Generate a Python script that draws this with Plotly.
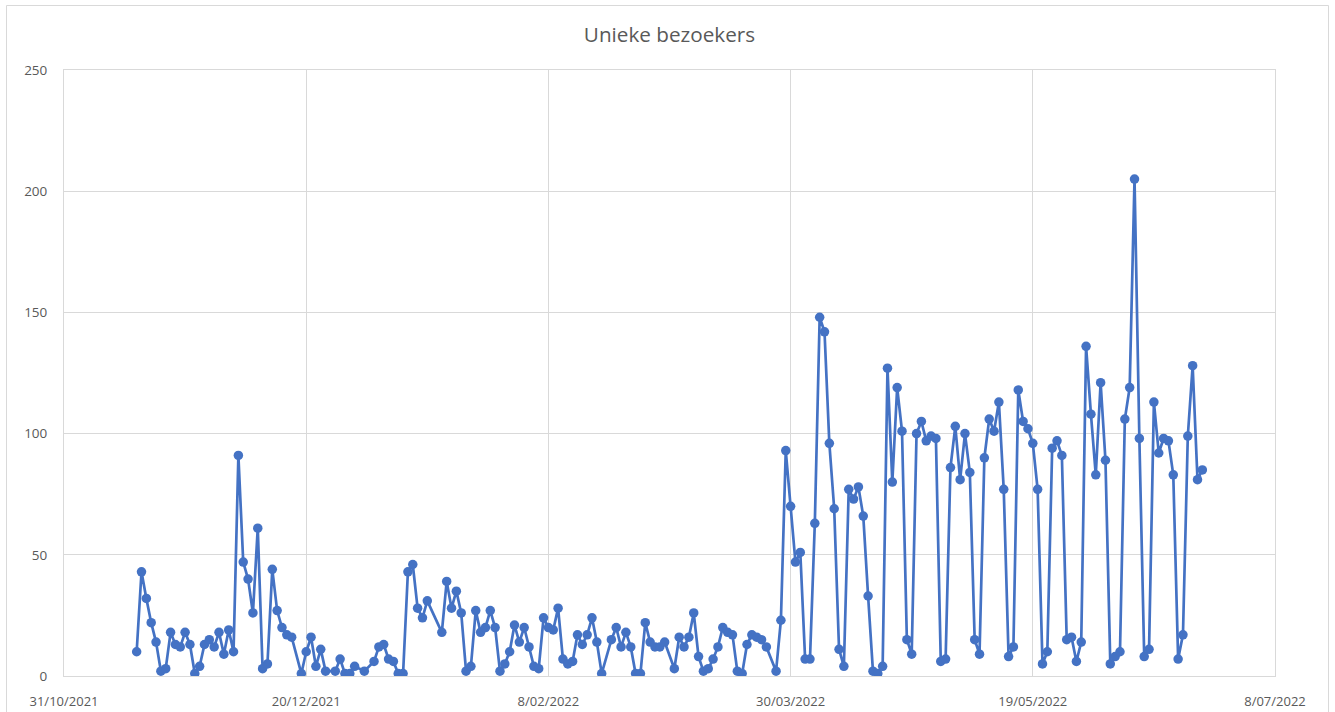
import pandas as pd
import plotly.graph_objects as go

title_text = "Unieke bezoekers"
start_date = "2021-10-31"

days_since_start = [
    15, 16, 17, 18, 19, 20, 21, 22, 23, 24, 25, 26, 27, 28, 29, 30, 31, 32, 33, 34,
    35, 36, 37, 38, 39, 40, 41, 42, 43, 44, 45, 46, 47, 49, 50, 51, 52, 53, 54, 56,
    57, 58, 59, 60, 62, 64, 65, 66, 67, 68, 69, 70, 71, 72, 73, 74, 75, 78, 79, 80,
    81, 82, 83, 84, 85, 86, 87, 88, 89, 90, 91, 92, 93, 94, 95, 96, 97, 98, 99, 100,
    101, 102, 103, 104, 105, 106, 107, 108, 109, 110, 111, 113, 114, 115, 116, 117, 118, 119, 120, 121,
    122, 123, 124, 126, 127, 128, 129, 130, 131, 132, 133, 134, 135, 136, 137, 138, 139, 140, 141, 142,
    143, 144, 145, 147, 148, 149, 150, 151, 152, 153, 154, 155, 156, 157, 158, 159, 160, 161, 162, 163,
    164, 165, 166, 167, 168, 169, 170, 171, 172, 173, 174, 175, 176, 177, 178, 179, 180, 181, 182, 183,
    184, 185, 186, 187, 188, 189, 190, 191, 192, 193, 194, 195, 196, 197, 198, 199, 200, 201, 202, 203,
    204, 205, 206, 207, 208, 209, 210, 211, 212, 213, 214, 215, 216, 217, 218, 219, 220, 221, 222, 223,
    224, 225, 226, 227, 228, 229, 230, 231, 232, 233, 234, 235,
]

visitors = [
    10, 43, 32, 22, 14, 2, 3, 18, 13, 12, 18, 13, 1, 4, 13, 15, 12, 18, 9, 19,
    10, 91, 47, 40, 26, 61, 3, 5, 44, 27, 20, 17, 16, 1, 10, 16, 4, 11, 2, 2,
    7, 1, 1, 4, 2, 6, 12, 13, 7, 6, 1, 1, 43, 46, 28, 24, 31, 18, 39, 28,
    35, 26, 2, 4, 27, 18, 20, 27, 20, 2, 5, 10, 21, 14, 20, 12, 4, 3, 24, 20,
    19, 28, 7, 5, 6, 17, 13, 17, 24, 14, 1, 15, 20, 12, 18, 12, 1, 1, 22, 14,
    12, 12, 14, 3, 16, 12, 16, 26, 8, 2, 3, 7, 12, 20, 18, 17, 2, 1, 13, 17,
    16, 15, 12, 2, 23, 93, 70, 47, 51, 7, 7, 63, 148, 142, 96, 69, 11, 4, 77, 73,
    78, 66, 33, 2, 1, 4, 127, 80, 119, 101, 15, 9, 100, 105, 97, 99, 98, 6, 7, 86,
    103, 81, 100, 84, 15, 9, 90, 106, 101, 113, 77, 8, 12, 118, 105, 102, 96, 77, 5, 10,
    94, 97, 91, 15, 16, 6, 14, 136, 108, 83, 121, 89, 5, 8, 10, 106, 119, 205, 98, 8,
    11, 113, 92, 98, 97, 83, 7, 17, 99, 128, 81, 85,
]

x_tick_dates = ["2021-10-31", "2021-12-20", "2022-02-08", "2022-03-30", "2022-05-19", "2022-07-08"]
x_tick_labels = ["31/10/2021", "20/12/2021", "8/02/2022", "30/03/2022", "19/05/2022", "8/07/2022"]
y_ticks = [0, 50, 100, 150, 200, 250]

dates = pd.to_datetime(start_date) + pd.to_timedelta(days_since_start, unit="D")

LINE_COLOR = "#4472C4"
GRID = "#D9D9D9"
TEXT = "#595959"
FONT = "Open Sans"

W, H = 1335, 712
L, R, T, B = 64, 1275, 70, 676  # plot area edges in page pixels

fig = go.Figure()
fig.add_trace(go.Scatter(
    x=dates, y=visitors, mode="lines+markers",
    line=dict(color=LINE_COLOR, width=2.7),
    marker=dict(color=LINE_COLOR, size=9.5),
    showlegend=False,
))

fig.update_layout(
    width=W, height=H,
    margin=dict(l=L, r=W - R, t=T, b=H - B, pad=0, autoexpand=False),
    paper_bgcolor="white", plot_bgcolor="white",
    font=dict(family=FONT, color=TEXT, size=13),
    title=dict(text=title_text, x=0.5, xanchor="center", xref="paper",
               y=1 - 35 / H, yanchor="middle", yref="container",
               font=dict(family=FONT, size=20.7, color=TEXT)),
    xaxis=dict(
        range=[x_tick_dates[0], x_tick_dates[-1]],
        tickmode="array", tickvals=x_tick_dates, ticktext=x_tick_labels,
        showgrid=True, gridcolor=GRID, gridwidth=1,
        showline=True, linecolor=GRID, linewidth=1, mirror=True,
        ticks="outside", ticklen=13, tickcolor="rgba(0,0,0,0)",
        tickfont=dict(family=FONT, size=13, color=TEXT),
        zeroline=False, automargin=False,
    ),
    yaxis=dict(
        range=[0, 250],
        tickmode="array", tickvals=y_ticks,
        showgrid=True, gridcolor=GRID, gridwidth=1,
        showline=True, linecolor=GRID, linewidth=1, mirror=True,
        ticks="outside", ticklen=13, tickcolor="rgba(0,0,0,0)",
        tickfont=dict(family=FONT, size=13.5, color=TEXT),
        zeroline=False, automargin=False,
    ),
    shapes=[dict(
        type="rect", xref="paper", yref="paper",
        x0=(6.5 - L) / (R - L), x1=(1328.5 - L) / (R - L),
        y0=(B - 716) / (B - T), y1=(B - 5.5) / (B - T),
        line=dict(color=GRID, width=1), fillcolor="rgba(0,0,0,0)", layer="below",
    )],
)

fig.write_html(
    "out.html",
    config={"displayModeBar": False},
    post_script="document.body.style.margin='0';document.body.style.overflow='hidden';",
)
